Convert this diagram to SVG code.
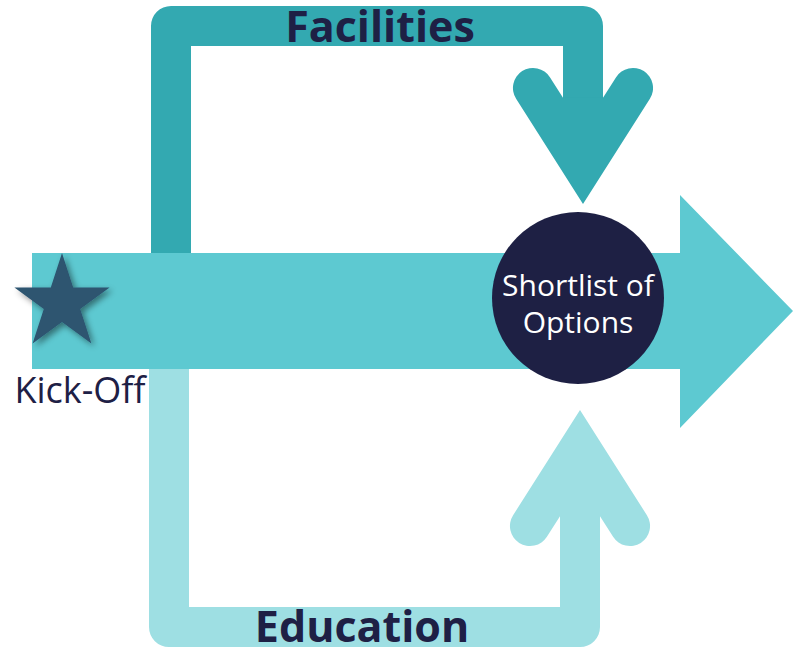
<svg xmlns="http://www.w3.org/2000/svg" width="793" height="648" viewBox="0 0 793 648">
<defs>
<style>
.lbl{font-family:"Open Sans","Noto Sans","Liberation Sans",sans-serif;fill:#1E2045;}
.bold{font-weight:700;font-size:43px;text-anchor:middle;}
.circ{font-family:"Open Sans","Noto Sans","Liberation Sans",sans-serif;fill:#FFFFFF;font-size:30px;font-weight:500;text-anchor:middle;}
.top{fill:#33A9B1;}
.bot{fill:#9EDFE3;}
.main{fill:#5DC9D1;}
</style>
<filter id="sh" x="-30%" y="-30%" width="160%" height="160%">
<feDropShadow dx="3" dy="3" stdDeviation="3" flood-color="#000000" flood-opacity="0.45"/>
</filter>
</defs>
<rect width="793" height="648" fill="#FFFFFF"/>
<g id="connectors">
<g id="facilities-path">
<path d="M171,254 L171,26 L583,26 L583,110" fill="none" stroke="#33A9B1" stroke-width="40" stroke-linejoin="round"/>
<path class="top" d="M583,204 L516.1,98.8 A20,20 0 0 1 549.9,77.2 L563,97.7 L603,97.7 L616.1,77.2 A20,20 0 0 1 649.9,98.8 Z"/>
</g>
<g id="education-path">
<path d="M169,368 L169,627 L580,627 L580,505" fill="none" stroke="#9EDFE3" stroke-width="40" stroke-linejoin="round"/>
<path class="bot" d="M580,410 L513.1,515.2 A20,20 0 0 0 546.9,536.8 L560,516.3 L600,516.3 L613.1,536.8 A20,20 0 0 0 646.9,515.2 Z"/>
</g>
<g id="main-arrow">
<path class="main" d="M32,253 L680,253 L680,195 L793,311 L680,428 L680,369 L32,369 Z"/>
</g>
</g>
<g id="label-facilities">
<text class="lbl bold" x="380" y="42">Facilities</text>
</g>
<g id="label-education">
<text class="lbl bold" x="362" y="642">Education</text>
</g>
<g id="kickoff">
<polygon points="62,253 73.2,287.5 109.6,287.5 80.2,308.9 91.4,343.5 62,322.1 32.6,343.5 43.8,308.9 14.4,287.5 50.8,287.5" fill="#2D5470" filter="url(#sh)"/>
<text class="lbl" x="80" y="403" font-size="36" text-anchor="middle">Kick-Off</text>
</g>
<g id="shortlist">
<circle cx="578" cy="298" r="86" fill="#1E2044"/>
<text class="circ" x="578" y="296">Shortlist of</text>
<text class="circ" x="578" y="333">Options</text>
</g>
</svg>
